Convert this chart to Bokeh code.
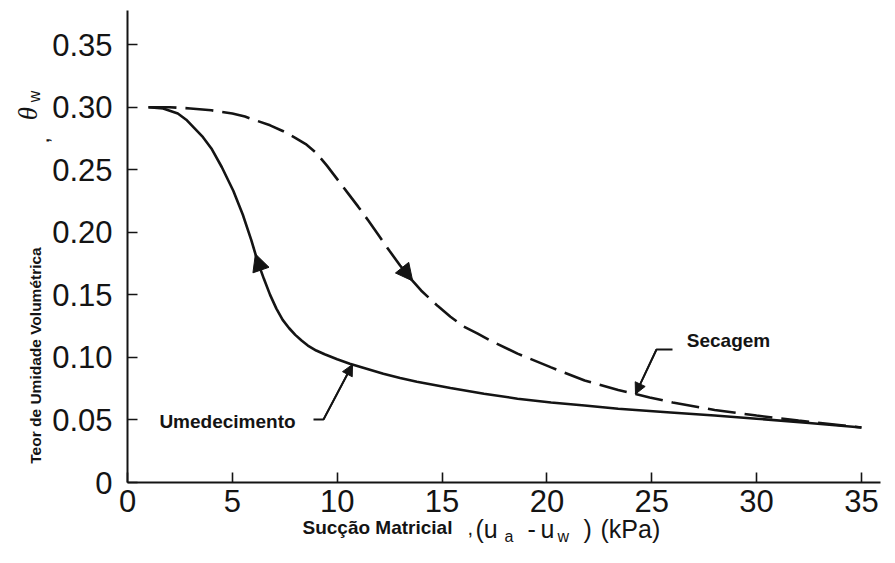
import numpy as np
from bokeh.plotting import figure
from bokeh.models import (Label, Arrow, NormalHead, FixedTicker, NumeralTickFormatter,
                          Range1d, LinearAxis)
from bokeh.embed import file_html
from bokeh.resources import INLINE

# ---------------- data ----------------
x_ticks = [0, 5, 10, 15, 20, 25, 30, 35]
y_ticks = [0, 0.05, 0.10, 0.15, 0.20, 0.25, 0.30, 0.35]

# Umedecimento (wetting) - solid curve
wet_x = [1.0, 1.7, 2.4, 2.8, 3.2, 3.6, 4.0, 4.5, 5.05, 5.5, 5.9, 6.2, 6.5, 6.8,
         7.1, 7.4, 7.7, 8.0, 8.3, 8.6, 9.0, 9.4, 10.0, 10.6, 11.4, 12.2, 13.0,
         13.8, 15.4, 17.0, 18.6, 20.2, 21.8, 23.4, 25.9, 28.0, 30.0, 32.5, 35.0]
wet_y = [0.300, 0.299, 0.295, 0.290, 0.283, 0.276, 0.267, 0.252, 0.233, 0.214,
         0.194, 0.177, 0.163, 0.150, 0.139, 0.130, 0.1235, 0.118, 0.1135, 0.1095,
         0.1055, 0.1025, 0.0985, 0.095, 0.091, 0.087, 0.0835, 0.0805, 0.0755,
         0.071, 0.067, 0.064, 0.0615, 0.059, 0.056, 0.0535, 0.051, 0.0475, 0.044]

# Secagem (drying) - dashed curve
dry_x = [1.0, 2.0, 3.0, 4.0, 5.0, 5.6, 6.2, 6.8, 7.4, 8.0, 8.5, 9.0, 9.5, 10.0,
         10.5, 11.0, 11.5, 12.0, 12.5, 13.0, 13.5, 14.0, 14.8, 15.4, 16.0, 16.7,
         17.3, 18.6, 20.2, 21.8, 23.4, 24.9, 26.0, 28.0, 30.0, 32.0, 35.0]
dry_y = [0.300, 0.300, 0.299, 0.2975, 0.295, 0.2925, 0.289, 0.2855, 0.281,
         0.2755, 0.2705, 0.2635, 0.2535, 0.2425, 0.2315, 0.2205, 0.209, 0.197,
         0.185, 0.1735, 0.163, 0.1535, 0.141, 0.1325, 0.125, 0.119, 0.1135,
         0.103, 0.092, 0.0815, 0.074, 0.068, 0.064, 0.058, 0.0535, 0.0495, 0.044]

# ---------------- layout ----------------
W, H = 893, 561
OX, OY = 127, 482          # pixel position of the data origin
KX, KY = 20.97, 1251.0     # pixels per data unit
X_END = (880 - OX) / KX    # where the axis lines stop
Y_END = (OY - 10) / KY
INK = "#141414"
FONT = "Liberation Sans"


def dx(px):
    return (px - OX) / KX


def dy(py):
    return (OY - py) / KY


p = figure(width=W, height=H, output_backend="svg", toolbar_location=None,
           x_range=Range1d(dx(0), dx(W)), y_range=Range1d(dy(H), dy(0)),
           x_axis_location=None, y_axis_location=None, min_border=0)
p.outline_line_color = None
p.grid.visible = False
p.background_fill_color = "white"
p.border_fill_color = "white"

xaxis = LinearAxis(fixed_location=0, bounds=(0, X_END), ticker=FixedTicker(ticks=x_ticks))
yaxis = LinearAxis(fixed_location=0, bounds=(0, Y_END), ticker=FixedTicker(ticks=y_ticks),
                   formatter=NumeralTickFormatter(format="0.00"))
yaxis.major_label_overrides = {0: "0"}
for ax in (xaxis, yaxis):
    ax.axis_line_width = 2
    ax.axis_line_color = INK
    ax.major_tick_in = 10
    ax.major_tick_out = 0
    ax.major_tick_line_width = 1.6
    ax.major_tick_line_color = INK
    ax.minor_tick_line_color = None
    ax.major_label_text_font = FONT
    ax.major_label_text_font_size = "31px"
    ax.major_label_text_color = INK
yaxis.major_label_standoff = 15
xaxis.major_label_standoff = 7
p.add_layout(xaxis, "below")
p.add_layout(yaxis, "left")

# curves
p.line(wet_x, wet_y, line_width=2.6, line_color=INK)
p.line(dry_x, dry_y, line_width=2.6, line_color=INK, line_dash="28 9")


def head_on(xs, ys, x_from, x_to, size):
    p.add_layout(Arrow(
        end=NormalHead(size=size, fill_color=INK, line_color=INK, line_width=1),
        x_start=x_from, y_start=float(np.interp(x_from, xs, ys)),
        x_end=x_to, y_end=float(np.interp(x_to, xs, ys)),
        line_alpha=0, line_width=0))


head_on(wet_x, wet_y, 6.55, 6.1, 17)
head_on(dry_x, dry_y, 12.9, 13.6, 17)


def leader(xs, ys, pts_px, tip_x):
    lx = [dx(a) for a, _ in pts_px]
    ly = [dy(b) for _, b in pts_px]
    tx = dx(tip_x)
    ty = float(np.interp(tx, xs, ys))
    p.line(lx + [tx], ly + [ty], line_width=1.8, line_color=INK)
    p.add_layout(Arrow(
        end=NormalHead(size=11, fill_color=INK, line_color=INK, line_width=1),
        x_start=lx[-1], y_start=ly[-1], x_end=tx, y_end=ty,
        line_width=1.8, line_color=INK))


leader(dry_x, dry_y, [(672, 349), (656, 349)], 635)
leader(wet_x, wet_y, [(313, 419), (323, 419)], 352)


def lab(text, px, py, size, font=FONT, style="normal",
        align="left", baseline="alphabetic", angle=0.0):
    p.add_layout(Label(x=dx(px), y=dy(py), text=text, text_font=font,
                       text_font_size=f"{size}px", text_font_style=style,
                       text_align=align, text_baseline=baseline, angle=angle,
                       text_color=INK))


# curve annotations
lab("Secagem", 728, 340, 19, style="bold", align="center", baseline="middle")
lab("Umedecimento", 227, 421, 19, style="bold", align="center", baseline="middle")

# x axis title
lab("Sucção Matricial", 302, 527, 19, style="bold")
lab(",", 467, 527, 20)
lab("(u", 475, 528, 25)
lab("a", 504, 536, 16)
lab("-", 527, 528, 25)
lab("u", 540, 528, 25)
lab("w", 557, 536, 16)
lab(")", 583, 528, 25)
lab("(kPa)", 600, 528, 25)

# y axis title (rotated)
R = np.pi / 2
lab("Teor de Umidade Volumétrica", 35, 355, 15.5, style="bold",
    align="center", baseline="middle", angle=R)
lab(",", 42, 140, 17, style="bold", align="center", baseline="middle", angle=R)
lab("θ", 27, 113, 27, font="Liberation Serif", style="italic",
    align="center", baseline="middle", angle=R)
lab("w", 34, 96, 16, align="center", baseline="middle", angle=R)

open("out.html", "w").write(file_html(p, INLINE))
